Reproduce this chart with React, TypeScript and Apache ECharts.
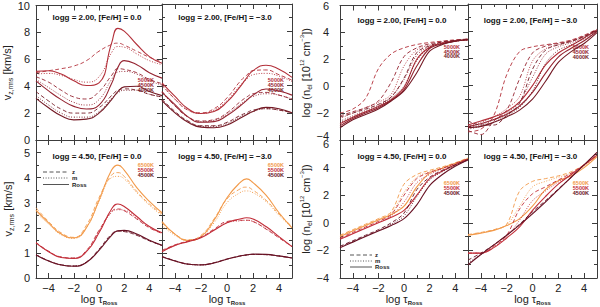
import React, { useEffect, useRef } from "react";
import * as echarts from "echarts";

// ---------------- data ----------------
const TAU_V = [-5, -4, -3, -2, -1, 0, 1, 1.5, 2, 3, 4, 5];
const TAU_N = [-5, -4, -3, -2, -1, 0, 1, 2, 3, 4, 5];
const X_LABEL_VALUES = [-4, -2, 0, 2, 4];
const X_MINOR_VALUES = [-3, -1, 1, 3];
const TEMPS_TOP = ["5000K", "4500K", "4000K"];
const TEMPS_BOTTOM = ["6500K", "5500K", "4500K"];
const TITLES = [
  "logg = 2.00, [Fe/H] = 0.0",
  "logg = 2.00, [Fe/H] = \u22123.0",
  "logg = 4.50, [Fe/H] = 0.0",
  "logg = 4.50, [Fe/H] = \u22123.0",
  "logg = 2.00, [Fe/H] = 0.0",
  "logg = 2.00, [Fe/H] = \u22123.0",
  "logg = 4.50, [Fe/H] = 0.0",
  "logg = 4.50, [Fe/H] = \u22123.0",
];

// A: v_z,rms, logg 2.00, [Fe/H] 0.0   (x = TAU_V)
const A_5000_z = [5.0, 5.15, 5.3, 5.5, 5.9, 6.6, 7.1, 7.2, 7.05, 6.6, 6.15, 5.8];
const A_5000_m = [4.9, 4.95, 4.8, 4.5, 4.3, 4.7, 6.5, 6.95, 6.9, 6.4, 5.9, 5.6];
const A_5000_r = [5.1, 5.15, 4.9, 4.4, 4.05, 4.25, 7.2, 8.3, 8.1, 7.1, 6.2, 5.7];
const A_4500_z = [4.7, 4.3, 3.7, 3.2, 3.05, 3.6, 4.8, 5.3, 5.25, 5.0, 4.5, 4.2];
const A_4500_m = [4.5, 3.9, 3.3, 2.8, 2.6, 3.0, 4.5, 5.05, 5.1, 4.9, 4.4, 4.1];
const A_4500_r = [4.4, 3.65, 3.0, 2.5, 2.3, 2.6, 4.2, 5.4, 5.9, 5.6, 5.0, 4.6];
const A_4000_z = [3.6, 2.9, 2.3, 2.0, 2.0, 2.4, 3.3, 3.7, 3.8, 3.7, 3.4, 3.2];
const A_4000_m = [3.3, 2.6, 2.0, 1.7, 1.7, 2.1, 3.1, 3.5, 3.7, 3.7, 3.4, 3.2];
const A_4000_r = [3.1, 2.4, 1.8, 1.5, 1.55, 2.0, 3.0, 3.6, 3.95, 4.0, 3.6, 3.3];

// B: v_z,rms, logg 2.00, [Fe/H] -3.0
const B_5000_z = [4.1, 3.0, 2.2, 2.0, 2.3, 3.1, 4.3, 4.75, 5.1, 5.15, 4.8, 4.4];
const B_5000_m = [4.0, 3.0, 2.2, 1.95, 2.2, 2.9, 4.0, 4.45, 4.8, 4.9, 4.7, 4.3];
const B_5000_r = [4.2, 3.2, 2.3, 1.95, 2.1, 2.8, 3.9, 4.55, 5.1, 5.5, 5.2, 4.6];
const B_4500_z = [3.6, 2.5, 1.7, 1.4, 1.5, 2.0, 2.8, 3.15, 3.4, 3.5, 3.3, 3.0];
const B_4500_m = [3.5, 2.5, 1.7, 1.35, 1.45, 1.9, 2.6, 2.95, 3.2, 3.4, 3.3, 3.0];
const B_4500_r = [3.5, 2.6, 1.7, 1.3, 1.35, 1.8, 2.5, 2.9, 3.3, 3.75, 3.6, 3.3];
const B_4000_z = [3.0, 2.1, 1.4, 1.05, 1.05, 1.3, 1.8, 2.0, 2.2, 2.3, 2.2, 2.0];
const B_4000_m = [2.9, 2.0, 1.35, 1.0, 1.0, 1.2, 1.7, 1.9, 2.1, 2.3, 2.2, 2.0];
const B_4000_r = [2.9, 2.0, 1.3, 0.95, 0.9, 1.1, 1.6, 1.85, 2.1, 2.4, 2.3, 2.0];

// C: v_z,rms, logg 4.50, [Fe/H] 0.0
const C_6500_z = [2.8, 2.25, 1.8, 1.62, 2.1, 3.2, 4.1, 4.2, 4.05, 3.45, 2.95, 2.55];
const C_6500_m = [2.6, 2.15, 1.72, 1.58, 2.0, 3.05, 4.0, 4.05, 3.95, 3.4, 2.9, 2.5];
const C_6500_r = [2.7, 2.2, 1.75, 1.6, 2.0, 3.1, 4.3, 4.5, 4.3, 3.6, 3.05, 2.6];
const C_5500_z = [1.42, 1.07, 0.84, 0.8, 1.1, 1.9, 2.65, 2.75, 2.68, 2.35, 2.0, 1.78];
const C_5500_m = [1.4, 1.05, 0.83, 0.79, 1.07, 1.85, 2.62, 2.72, 2.7, 2.38, 2.02, 1.78];
const C_5500_r = [1.4, 1.05, 0.82, 0.78, 1.05, 1.8, 2.75, 2.95, 2.85, 2.45, 2.05, 1.8];
const C_4500_z = [0.93, 0.69, 0.53, 0.48, 0.64, 1.15, 1.75, 1.87, 1.85, 1.7, 1.48, 1.3];
const C_4500_m = [0.92, 0.68, 0.52, 0.48, 0.63, 1.12, 1.72, 1.87, 1.86, 1.72, 1.49, 1.3];
const C_4500_r = [0.92, 0.68, 0.52, 0.47, 0.62, 1.1, 1.7, 1.88, 1.9, 1.75, 1.5, 1.3];

// D: v_z,rms, logg 4.50, [Fe/H] -3.0
const D_6500_z = [2.2, 1.75, 1.52, 1.7, 2.35, 3.15, 3.55, 3.62, 3.5, 3.1, 2.55, 2.05];
const D_6500_m = [2.1, 1.7, 1.5, 1.65, 2.2, 3.0, 3.4, 3.47, 3.4, 3.05, 2.5, 2.0];
const D_6500_r = [2.25, 1.75, 1.5, 1.65, 2.3, 3.2, 3.8, 3.95, 3.8, 3.3, 2.6, 2.0];
const D_5500_z = [1.1, 1.32, 1.47, 1.63, 1.95, 2.25, 2.3, 2.3, 2.25, 1.95, 1.6, 1.25];
const D_5500_m = [1.05, 1.3, 1.46, 1.62, 1.92, 2.2, 2.28, 2.3, 2.25, 1.97, 1.62, 1.25];
const D_5500_r = [1.05, 1.3, 1.45, 1.6, 1.9, 2.2, 2.35, 2.4, 2.35, 2.05, 1.65, 1.25];
const D_4500_z = [0.86, 0.69, 0.56, 0.53, 0.61, 0.76, 0.88, 0.92, 0.94, 0.93, 0.87, 0.8];
const D_4500_m = [0.85, 0.68, 0.55, 0.52, 0.6, 0.75, 0.87, 0.91, 0.94, 0.93, 0.88, 0.8];
const D_4500_r = [0.85, 0.68, 0.55, 0.52, 0.6, 0.75, 0.88, 0.92, 0.95, 0.94, 0.88, 0.8];

// E: log n_el, logg 2.00, [Fe/H] 0.0   (x = TAU_N)
const E_5000_z = [-2.0, -1.7, -0.9, 1.3, 2.4, 2.85, 3.1, 3.25, 3.35, 3.45, 3.5];
const E_5000_m = [-2.4, -2.0, -1.6, -1.2, -0.6, 1.5, 2.7, 3.05, 3.25, 3.4, 3.45];
const E_5000_r = [-2.8, -2.3, -1.9, -1.5, -1.0, -0.1, 2.0, 2.9, 3.2, 3.35, 3.45];
const E_4500_z = [-2.2, -1.9, -1.6, -1.1, 0.3, 2.2, 2.85, 3.15, 3.3, 3.4, 3.5];
const E_4500_m = [-2.6, -2.2, -1.8, -1.4, -0.8, 0.5, 2.3, 2.95, 3.2, 3.35, 3.45];
const E_4500_r = [-2.95, -2.4, -2.0, -1.6, -1.05, -0.25, 1.5, 2.8, 3.15, 3.35, 3.45];
const E_4000_z = [-2.3, -2.0, -1.7, -1.35, -0.8, 0.6, 2.5, 3.0, 3.3, 3.4, 3.5];
const E_4000_m = [-2.7, -2.3, -1.9, -1.5, -0.9, 0.0, 1.9, 2.85, 3.15, 3.35, 3.45];
const E_4000_r = [-3.1, -2.5, -2.1, -1.7, -1.1, -0.35, 1.0, 2.6, 3.1, 3.35, 3.45];

// F: log n_el, logg 2.00, [Fe/H] -3.0
const F_5000_z = [-3.4, -3.2, -2.2, 0.8, 2.5, 2.85, 3.0, 3.15, 3.35, 3.7, 4.15];
const F_5000_m = [-3.0, -2.7, -2.3, -1.7, -0.8, 1.8, 2.7, 3.0, 3.25, 3.6, 4.1];
const F_5000_r = [-2.9, -2.6, -2.3, -1.9, -1.2, 0.0, 1.5, 2.4, 2.95, 3.5, 4.1];
const F_4500_z = [-3.3, -3.6, -2.6, -1.8, 0.5, 2.4, 2.9, 3.1, 3.3, 3.65, 4.1];
const F_4500_m = [-3.1, -2.9, -2.5, -2.0, -1.2, 0.6, 2.3, 2.85, 3.15, 3.55, 4.05];
const F_4500_r = [-3.0, -2.8, -2.5, -2.1, -1.5, -0.5, 0.9, 2.1, 2.75, 3.3, 4.0];
const F_4000_z = [-2.6, -2.9, -2.9, -2.2, -1.3, 1.2, 2.6, 3.0, 3.25, 3.6, 4.1];
const F_4000_m = [-3.2, -3.0, -2.7, -2.2, -1.6, -0.4, 1.6, 2.6, 3.0, 3.45, 4.0];
const F_4000_r = [-3.1, -3.0, -2.7, -2.3, -1.8, -1.0, 0.3, 1.7, 2.5, 3.1, 3.9];

// G: log n_el, logg 4.50, [Fe/H] 0.0
const G_6500_z = [-0.9, -0.5, -0.1, 0.3, 0.8, 2.8, 3.5, 3.8, 4.05, 4.35, 4.7];
const G_6500_m = [-0.95, -0.55, -0.15, 0.25, 0.7, 2.2, 3.3, 3.7, 4.0, 4.3, 4.65];
const G_6500_r = [-1.0, -0.6, -0.2, 0.2, 0.6, 1.2, 2.6, 3.6, 3.95, 4.3, 4.65];
const G_5500_z = [-1.1, -0.7, -0.3, 0.1, 0.6, 2.0, 3.2, 3.65, 3.95, 4.3, 4.65];
const G_5500_m = [-1.15, -0.75, -0.35, 0.05, 0.5, 1.5, 2.9, 3.5, 3.9, 4.25, 4.6];
const G_5500_r = [-1.2, -0.8, -0.4, 0.0, 0.4, 0.9, 2.0, 3.2, 3.75, 4.2, 4.6];
const G_4500_z = [-1.7, -1.3, -0.9, -0.5, 0.0, 0.7, 2.4, 3.3, 3.8, 4.2, 4.6];
const G_4500_m = [-1.75, -1.35, -0.95, -0.55, -0.1, 0.5, 1.9, 3.1, 3.7, 4.15, 4.55];
const G_4500_r = [-1.8, -1.4, -1.0, -0.6, -0.2, 0.3, 1.3, 2.7, 3.5, 4.1, 4.55];

// H: log n_el, logg 4.50, [Fe/H] -3.0
const H_6500_z = [-0.85, -0.7, -0.5, -0.1, 2.3, 3.0, 3.2, 3.4, 3.7, 4.2, 4.85];
const H_6500_m = [-0.9, -0.72, -0.52, -0.15, 1.2, 2.6, 3.0, 3.3, 3.6, 4.1, 4.8];
const H_6500_r = [-0.9, -0.75, -0.55, -0.2, 0.3, 1.2, 2.4, 3.05, 3.4, 4.0, 4.8];
const H_5500_z = [-2.2, -2.2, -1.7, -0.9, 1.0, 2.1, 2.6, 3.1, 3.6, 4.2, 4.9];
const H_5500_m = [-2.2, -2.2, -1.75, -1.0, 0.2, 1.6, 2.3, 2.95, 3.5, 4.15, 4.9];
const H_5500_r = [-2.2, -2.2, -1.8, -1.1, -0.3, 0.9, 1.9, 2.8, 3.5, 4.2, 4.9];
const H_4500_z = [-2.7, -2.2, -1.6, -0.9, -0.1, 0.8, 1.6, 2.45, 3.3, 4.2, 5.1];
const H_4500_m = [-2.9, -2.3, -1.6, -0.9, -0.15, 0.7, 1.55, 2.4, 3.3, 4.2, 5.1];
const H_4500_r = [-3.05, -2.3, -1.6, -0.9, -0.15, 0.65, 1.5, 2.4, 3.3, 4.2, 5.1];

const PANEL_DATA = [
  [[A_5000_z, A_5000_m, A_5000_r], [A_4500_z, A_4500_m, A_4500_r], [A_4000_z, A_4000_m, A_4000_r]],
  [[B_5000_z, B_5000_m, B_5000_r], [B_4500_z, B_4500_m, B_4500_r], [B_4000_z, B_4000_m, B_4000_r]],
  [[C_6500_z, C_6500_m, C_6500_r], [C_5500_z, C_5500_m, C_5500_r], [C_4500_z, C_4500_m, C_4500_r]],
  [[D_6500_z, D_6500_m, D_6500_r], [D_5500_z, D_5500_m, D_5500_r], [D_4500_z, D_4500_m, D_4500_r]],
  [[E_5000_z, E_5000_m, E_5000_r], [E_4500_z, E_4500_m, E_4500_r], [E_4000_z, E_4000_m, E_4000_r]],
  [[F_5000_z, F_5000_m, F_5000_r], [F_4500_z, F_4500_m, F_4500_r], [F_4000_z, F_4000_m, F_4000_r]],
  [[G_6500_z, G_6500_m, G_6500_r], [G_5500_z, G_5500_m, G_5500_r], [G_4500_z, G_4500_m, G_4500_r]],
  [[H_6500_z, H_6500_m, H_6500_r], [H_5500_z, H_5500_m, H_5500_r], [H_4500_z, H_4500_m, H_4500_r]],
];

// ---------------- layout & style ----------------
const FONT = "'Liberation Sans', Arial, Helvetica, sans-serif";
const AXIS = "#3c3c3c";
const TEXT = "#222";
const TOP_COLORS = ["#b3303a", "#952431", "#741a25"];
const BOTTOM_COLORS = ["#f29a4a", "#c22f3a", "#681224"];
const STYLES: any[] = [[4, 2.5], [1, 1.6], "solid"];

type Panel = {
  left: number; top: number; width: number; height: number;
  yMin: number; yMax: number; yInt: number;
  yLabels: boolean; xLabels: boolean; kind: "v" | "n"; bottom: boolean;
};

const LAYOUT: Panel[] = [
  { left: 36, top: 4, width: 126, height: 136, yMin: 0, yMax: 10, yInt: 2, yLabels: true, xLabels: false, kind: "v", bottom: false },
  { left: 162, top: 4, width: 130, height: 136, yMin: 0, yMax: 10, yInt: 2, yLabels: false, xLabels: false, kind: "v", bottom: false },
  { left: 36, top: 140, width: 126, height: 138, yMin: 0, yMax: 5.5, yInt: 1, yLabels: true, xLabels: true, kind: "v", bottom: true },
  { left: 162, top: 140, width: 130, height: 138, yMin: 0, yMax: 5.5, yInt: 1, yLabels: false, xLabels: true, kind: "v", bottom: true },
  { left: 340, top: 4, width: 128, height: 136, yMin: -4, yMax: 6, yInt: 2, yLabels: true, xLabels: false, kind: "n", bottom: false },
  { left: 468, top: 4, width: 129, height: 136, yMin: -4, yMax: 6, yInt: 2, yLabels: false, xLabels: false, kind: "n", bottom: false },
  { left: 340, top: 140, width: 128, height: 138, yMin: -4, yMax: 6, yInt: 2, yLabels: true, xLabels: true, kind: "n", bottom: true },
  { left: 468, top: 140, width: 129, height: 138, yMin: -4, yMax: 6, yInt: 2, yLabels: false, xLabels: true, kind: "n", bottom: true },
];

const TITLE_Y = [17, 17, 156, 156, 20, 20, 156, 156];
const TEMP_Y = [
  [80, 85, 90], [80, 85, 90], [165, 170, 175], [165, 170, 175],
  [47, 51.5, 56], [47, 52, 57], [183, 188, 192.5], [183, 188, 193],
];

const minus = (v: number) => String(v).replace("-", "\u2212");

function buildOption() {
  const grid: any[] = [];
  const xAxis: any[] = [];
  const yAxis: any[] = [];
  const series: any[] = [];
  const graphic: any[] = [];

  LAYOUT.forEach((p, i) => {
    grid.push({ left: p.left, top: p.top, width: p.width, height: p.height, containLabel: false });
    const tickStyle = { color: AXIS, width: 1 };
    const common = { type: "value", gridIndex: i, min: -5, max: 5, interval: 1, splitLine: { show: false } };
    xAxis.push({
      ...common, position: "bottom",
      axisLine: { show: true, onZero: false, lineStyle: { color: AXIS, width: 1 } },
      axisTick: { show: true, inside: true, length: 5, customValues: X_LABEL_VALUES, lineStyle: tickStyle },
      axisLabel: { show: p.xLabels, customValues: X_LABEL_VALUES, formatter: minus, color: TEXT, fontSize: 11, fontFamily: FONT, margin: 4 },
      name: p.xLabels ? "{a|log \u03c4}{s|Ross}" : "",
      nameLocation: "middle", nameGap: 13,
      nameTextStyle: {
        rich: {
          a: { fontSize: 11, color: TEXT, fontFamily: FONT, lineHeight: 13 },
          s: { fontSize: 6, color: TEXT, fontFamily: FONT, fontWeight: "bold", verticalAlign: "bottom", lineHeight: 13 },
        },
      },
    });
    xAxis.push({
      ...common, position: "bottom",
      axisLine: { show: false, onZero: false },
      axisTick: { show: true, inside: true, length: 3, customValues: X_MINOR_VALUES, lineStyle: tickStyle },
      axisLabel: { show: false },
    });
    xAxis.push({
      ...common, position: "top",
      axisLine: { show: true, onZero: false, lineStyle: { color: AXIS, width: 1 } },
      axisTick: { show: true, inside: true, length: 5, customValues: X_LABEL_VALUES, lineStyle: tickStyle },
      axisLabel: { show: false },
    });
    xAxis.push({
      ...common, position: "top",
      axisLine: { show: false, onZero: false },
      axisTick: { show: true, inside: true, length: 3, customValues: X_MINOR_VALUES, lineStyle: tickStyle },
      axisLabel: { show: false },
    });

    const yName = p.kind === "v"
      ? "{a|v}{s|z,rms}{a| [km/s]}"
      : "{a|log (n}{s|el}{a| [10}{p|12}{a| cm}{p|\u22123}{a|])}";
    const yCommon = {
      type: "value", gridIndex: i, min: p.yMin, max: p.yMax, interval: p.yInt,
      splitLine: { show: false },
      axisLine: { show: true, onZero: false, lineStyle: { color: AXIS, width: 1 } },
      axisTick: { show: true, inside: true, length: 5, lineStyle: tickStyle },
      minorTick: { show: true, splitNumber: 2, length: 3, lineStyle: tickStyle },
      minorSplitLine: { show: false },
    };
    const lblBase = { fontSize: 11, color: TEXT, fontFamily: FONT };
    const yFormatter = (v: number) => {
      const s = minus(v);
      if (p.kind === "n" && !p.bottom && v === p.yMin) return `{lo|${s}}`;
      if (p.kind === "n" && p.bottom && v === p.yMax) return `{hi|${s}}`;
      return s;
    };
    yAxis.push({
      ...yCommon, position: "left",
      axisLabel: {
        show: p.yLabels, formatter: yFormatter, ...lblBase,
        margin: p.kind === "v" ? 6 : 11, showMaxLabel: p.yMax !== 5.5, showMinLabel: true,
        rich: {
          lo: { ...lblBase, padding: [0, 0, 8, 0] },
          hi: { ...lblBase, padding: [8, 0, 0, 0] },
        },
      },
      name: p.yLabels ? yName : "",
      nameLocation: "middle", nameRotate: 90, nameGap: p.kind === "v" ? 21 : 22,
      nameTextStyle: {
        rich: {
          a: { fontSize: 11, color: TEXT, fontFamily: FONT, lineHeight: 14 },
          s: { fontSize: 7, color: TEXT, fontFamily: FONT, verticalAlign: "bottom", lineHeight: 14 },
          p: { fontSize: 6, color: TEXT, fontFamily: FONT, verticalAlign: "top", lineHeight: 14 },
        },
      },
    });
    yAxis.push({ ...yCommon, position: "right", axisLabel: { show: false } });

    const colors = p.bottom ? BOTTOM_COLORS : TOP_COLORS;
    const temps = p.bottom ? TEMPS_BOTTOM : TEMPS_TOP;
    const tau = p.kind === "v" ? TAU_V : TAU_N;
    PANEL_DATA[i].forEach((group, k) => {
      group.forEach((arr, s) => {
        series.push({
          type: "line",
          name: `${temps[k]}-${s}`,
          xAxisIndex: i * 4,
          yAxisIndex: i * 2,
          data: tau.map((t, j) => [t, arr[j]]),
          smooth: p.kind === "v" ? 0.5 : 0.35,
          showSymbol: false,
          symbol: "none",
          silent: true,
          clip: true,
          lineStyle: { color: colors[k], width: s === 2 ? 1.1 : 0.9, type: STYLES[s] },
        });
      });
    });

    graphic.push({
      type: "text", x: p.left + p.width / 2 - 2, y: TITLE_Y[i], silent: true,
      style: { text: TITLES[i], fill: "#111", font: `bold 8px ${FONT}`, textAlign: "center", textVerticalAlign: "middle" },
    });
    temps.forEach((t, k) => {
      graphic.push({
        type: "text", x: p.left + p.width - 8, y: TEMP_Y[i][k], silent: true,
        style: { text: t, fill: colors[k], font: `bold 5.5px ${FONT}`, textAlign: "right", textVerticalAlign: "middle" },
      });
    });
  });

  const legendAt = (x0: number, x1: number, ys: number[]) => {
    const labels = ["z", "m", "Ross"];
    ys.forEach((y, s) => {
      graphic.push({
        type: "line", silent: true,
        shape: { x1: x0, y1: y, x2: x1, y2: y },
        style: { stroke: "#555", lineWidth: 1, lineDash: s === 0 ? [4, 2.5] : s === 1 ? [1, 1.6] : null },
      });
      graphic.push({
        type: "text", x: x1 + 3, y, silent: true,
        style: { text: labels[s], fill: TEXT, font: `bold 6px ${FONT}`, textAlign: "left", textVerticalAlign: "middle" },
      });
    });
  };
  legendAt(43, 69, [172, 178, 184.5]);
  legendAt(350, 372, [255, 261, 267]);

  return { animation: false, grid, xAxis, yAxis, series, graphic };
}

export default function App() {
  const ref = useRef<HTMLDivElement>(null);
  useEffect(() => {
    if (!ref.current) return;
    const chart = echarts.init(ref.current, undefined, { renderer: "svg" });
    chart.setOption(buildOption() as any);
    return () => chart.dispose();
  }, []);
  return (
    <div
      ref={ref}
      style={{ position: "fixed", left: 0, top: 0, width: 600, height: 307, background: "#fff" }}
    />
  );
}
